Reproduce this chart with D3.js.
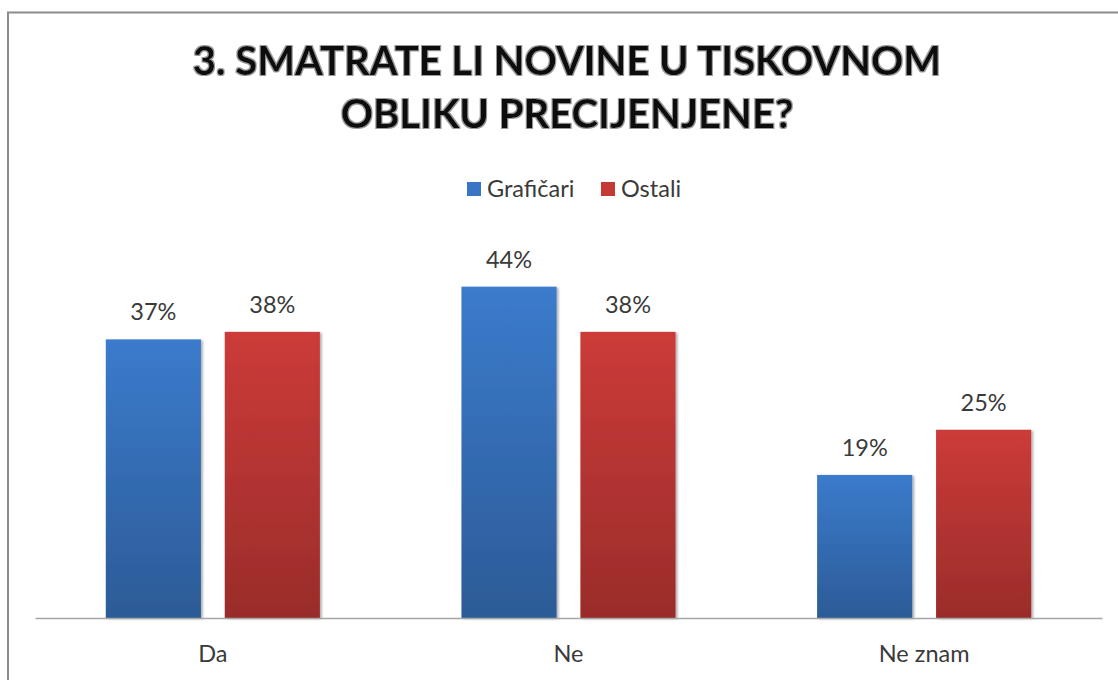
<!DOCTYPE html>
<html>
<head>
<meta charset="utf-8">
<script src="https://cdn.jsdelivr.net/npm/d3@7"></script>
<style>
  body { margin: 0; background: #fff; }
  svg { display: block; }
</style>
</head>
<body>
<script>
// chart data
var categories = ["Da", "Ne", "Ne znam"];
var seriesNames = ["Grafičari", "Ostali"];
var graficari = [37, 44, 19];
var ostali = [38, 38, 25];
var titleLines = ["3. SMATRATE LI NOVINE U TISKOVNOM", "OBLIKU PRECIJENJENE?"];

var colors = {
  "Grafičari": { top: "#3b7bcc", bottom: "#2c5b97", solid: "#3a74c4" },
  "Ostali":    { top: "#cc3b39", bottom: "#9a2c2a", solid: "#c43835" }
};

var W = 1118, H = 680;
var font = "Lato, 'Open Sans', sans-serif";

// table built from the arrays above
var data = categories.map(function(c, i) {
  return { cat: c, values: [
    { key: seriesNames[0], v: graficari[i] },
    { key: seriesNames[1], v: ostali[i] }
  ]};
});

var svg = d3.select("body").append("svg")
    .attr("width", W)
    .attr("height", H);

var defs = svg.append("defs");

seriesNames.forEach(function(s, i) {
  var g = defs.append("linearGradient")
      .attr("id", "grad" + i)
      .attr("x1", 0).attr("y1", 0).attr("x2", 0).attr("y2", 1);
  g.append("stop").attr("offset", "0%").attr("stop-color", colors[s].top);
  g.append("stop").attr("offset", "100%").attr("stop-color", colors[s].bottom);
});

// soft shadow for the bars
var sh = defs.append("filter").attr("id", "barShadow")
    .attr("x", "-10%").attr("y", "-10%").attr("width", "130%").attr("height", "120%");
sh.append("feGaussianBlur").attr("in", "SourceAlpha").attr("stdDeviation", 1.2).attr("result", "b");
sh.append("feOffset").attr("in", "b").attr("dx", 1.5).attr("dy", 1).attr("result", "o");
sh.append("feComponentTransfer").attr("in", "o").attr("result", "o2")
  .append("feFuncA").attr("type", "linear").attr("slope", 0.3);
var shm = sh.append("feMerge");
shm.append("feMergeNode").attr("in", "o2");
shm.append("feMergeNode").attr("in", "SourceGraphic");

// light grey halo behind the title
var glow = defs.append("filter").attr("id", "titleGlow")
    .attr("x", "-5%").attr("y", "-20%").attr("width", "110%").attr("height", "140%");
glow.append("feMorphology").attr("in", "SourceAlpha").attr("operator", "dilate").attr("radius", 1).attr("result", "d");
glow.append("feGaussianBlur").attr("in", "d").attr("stdDeviation", 0.7).attr("result", "db");
glow.append("feFlood").attr("flood-color", "#9a9a9a").attr("result", "f");
glow.append("feComposite").attr("in", "f").attr("in2", "db").attr("operator", "in").attr("result", "halo");
var gm = glow.append("feMerge");
gm.append("feMergeNode").attr("in", "halo");
gm.append("feMergeNode").attr("in", "SourceGraphic");

// frame (top and left edges only are visible)
svg.append("line")
    .attr("x1", 7).attr("x2", W).attr("y1", 12.5).attr("y2", 12.5)
    .attr("stroke", "#8c8c8c").attr("stroke-width", 2);
svg.append("line")
    .attr("x1", 8).attr("x2", 8).attr("y1", 12).attr("y2", H)
    .attr("stroke", "#8c8c8c").attr("stroke-width", 2);

// title
var title = svg.append("text")
    .attr("text-anchor", "middle")
    .attr("font-family", font)
    .attr("font-weight", "bold")
    .attr("font-size", 40)
    .attr("fill", "#111")
    .attr("filter", "url(#titleGlow)");
title.selectAll("tspan")
    .data(titleLines)
  .enter().append("tspan")
    .attr("x", 567)
    .attr("y", function(d, i) { return 75 + i * 53; })
    .text(function(d) { return d; });

// scales
var margin = { left: 35, right: 16, baseline: 618 };
var x0 = d3.scaleBand()
    .domain(categories)
    .range([margin.left, W - margin.right])
    .padding(0);
var x1 = d3.scaleBand()
    .domain(seriesNames)
    .range([0, x0.bandwidth()])
    .paddingInner(0.2)
    .paddingOuter(0.595);
var y = d3.scaleLinear()
    .domain([0, 50])
    .range([margin.baseline, margin.baseline - 50 * 7.53]);

// bars
var groups = svg.selectAll(".grp")
    .data(data)
  .enter().append("g")
    .attr("class", "grp")
    .attr("transform", function(d) { return "translate(" + x0(d.cat) + ",0)"; });

groups.selectAll("rect")
    .data(function(d) { return d.values; })
  .enter().append("rect")
    .attr("x", function(d) { return x1(d.key); })
    .attr("width", x1.bandwidth())
    .attr("y", function(d) { return y(d.v); })
    .attr("height", function(d) { return y(0) - y(d.v); })
    .attr("fill", function(d) { return "url(#grad" + seriesNames.indexOf(d.key) + ")"; })
    .attr("filter", "url(#barShadow)");

// value labels
groups.selectAll(".val")
    .data(function(d) { return d.values; })
  .enter().append("text")
    .attr("class", "val")
    .attr("x", function(d) { return x1(d.key) + x1.bandwidth() / 2; })
    .attr("y", function(d) { return y(d.v) - 19; })
    .attr("text-anchor", "middle")
    .attr("font-family", font)
    .attr("font-size", 23.5)
    .attr("fill", "#3a3a3a")
    .text(function(d) { return d.v + "%"; });

// x axis
var xAxis = svg.append("g")
    .attr("transform", "translate(0," + margin.baseline + ")")
    .call(d3.axisBottom(x0).tickSize(0).tickPadding(27));
xAxis.select(".domain")
    .attr("stroke", "#a6a6a6")
    .attr("stroke-width", 1.6);
xAxis.selectAll("text")
    .attr("font-family", font)
    .attr("font-size", 23.5)
    .attr("fill", "#3a3a3a");

// legend
var legend = svg.append("g").attr("font-family", font).attr("font-size", 23.5);
var legendX = [467, 601];
seriesNames.forEach(function(s, i) {
  legend.append("rect")
      .attr("x", legendX[i]).attr("y", 182)
      .attr("width", 14).attr("height", 14)
      .attr("fill", colors[s].solid);
  legend.append("text")
      .attr("x", legendX[i] + 20).attr("y", 197)
      .attr("fill", "#3a3a3a")
      .text(s);
});
</script>
</body>
</html>
